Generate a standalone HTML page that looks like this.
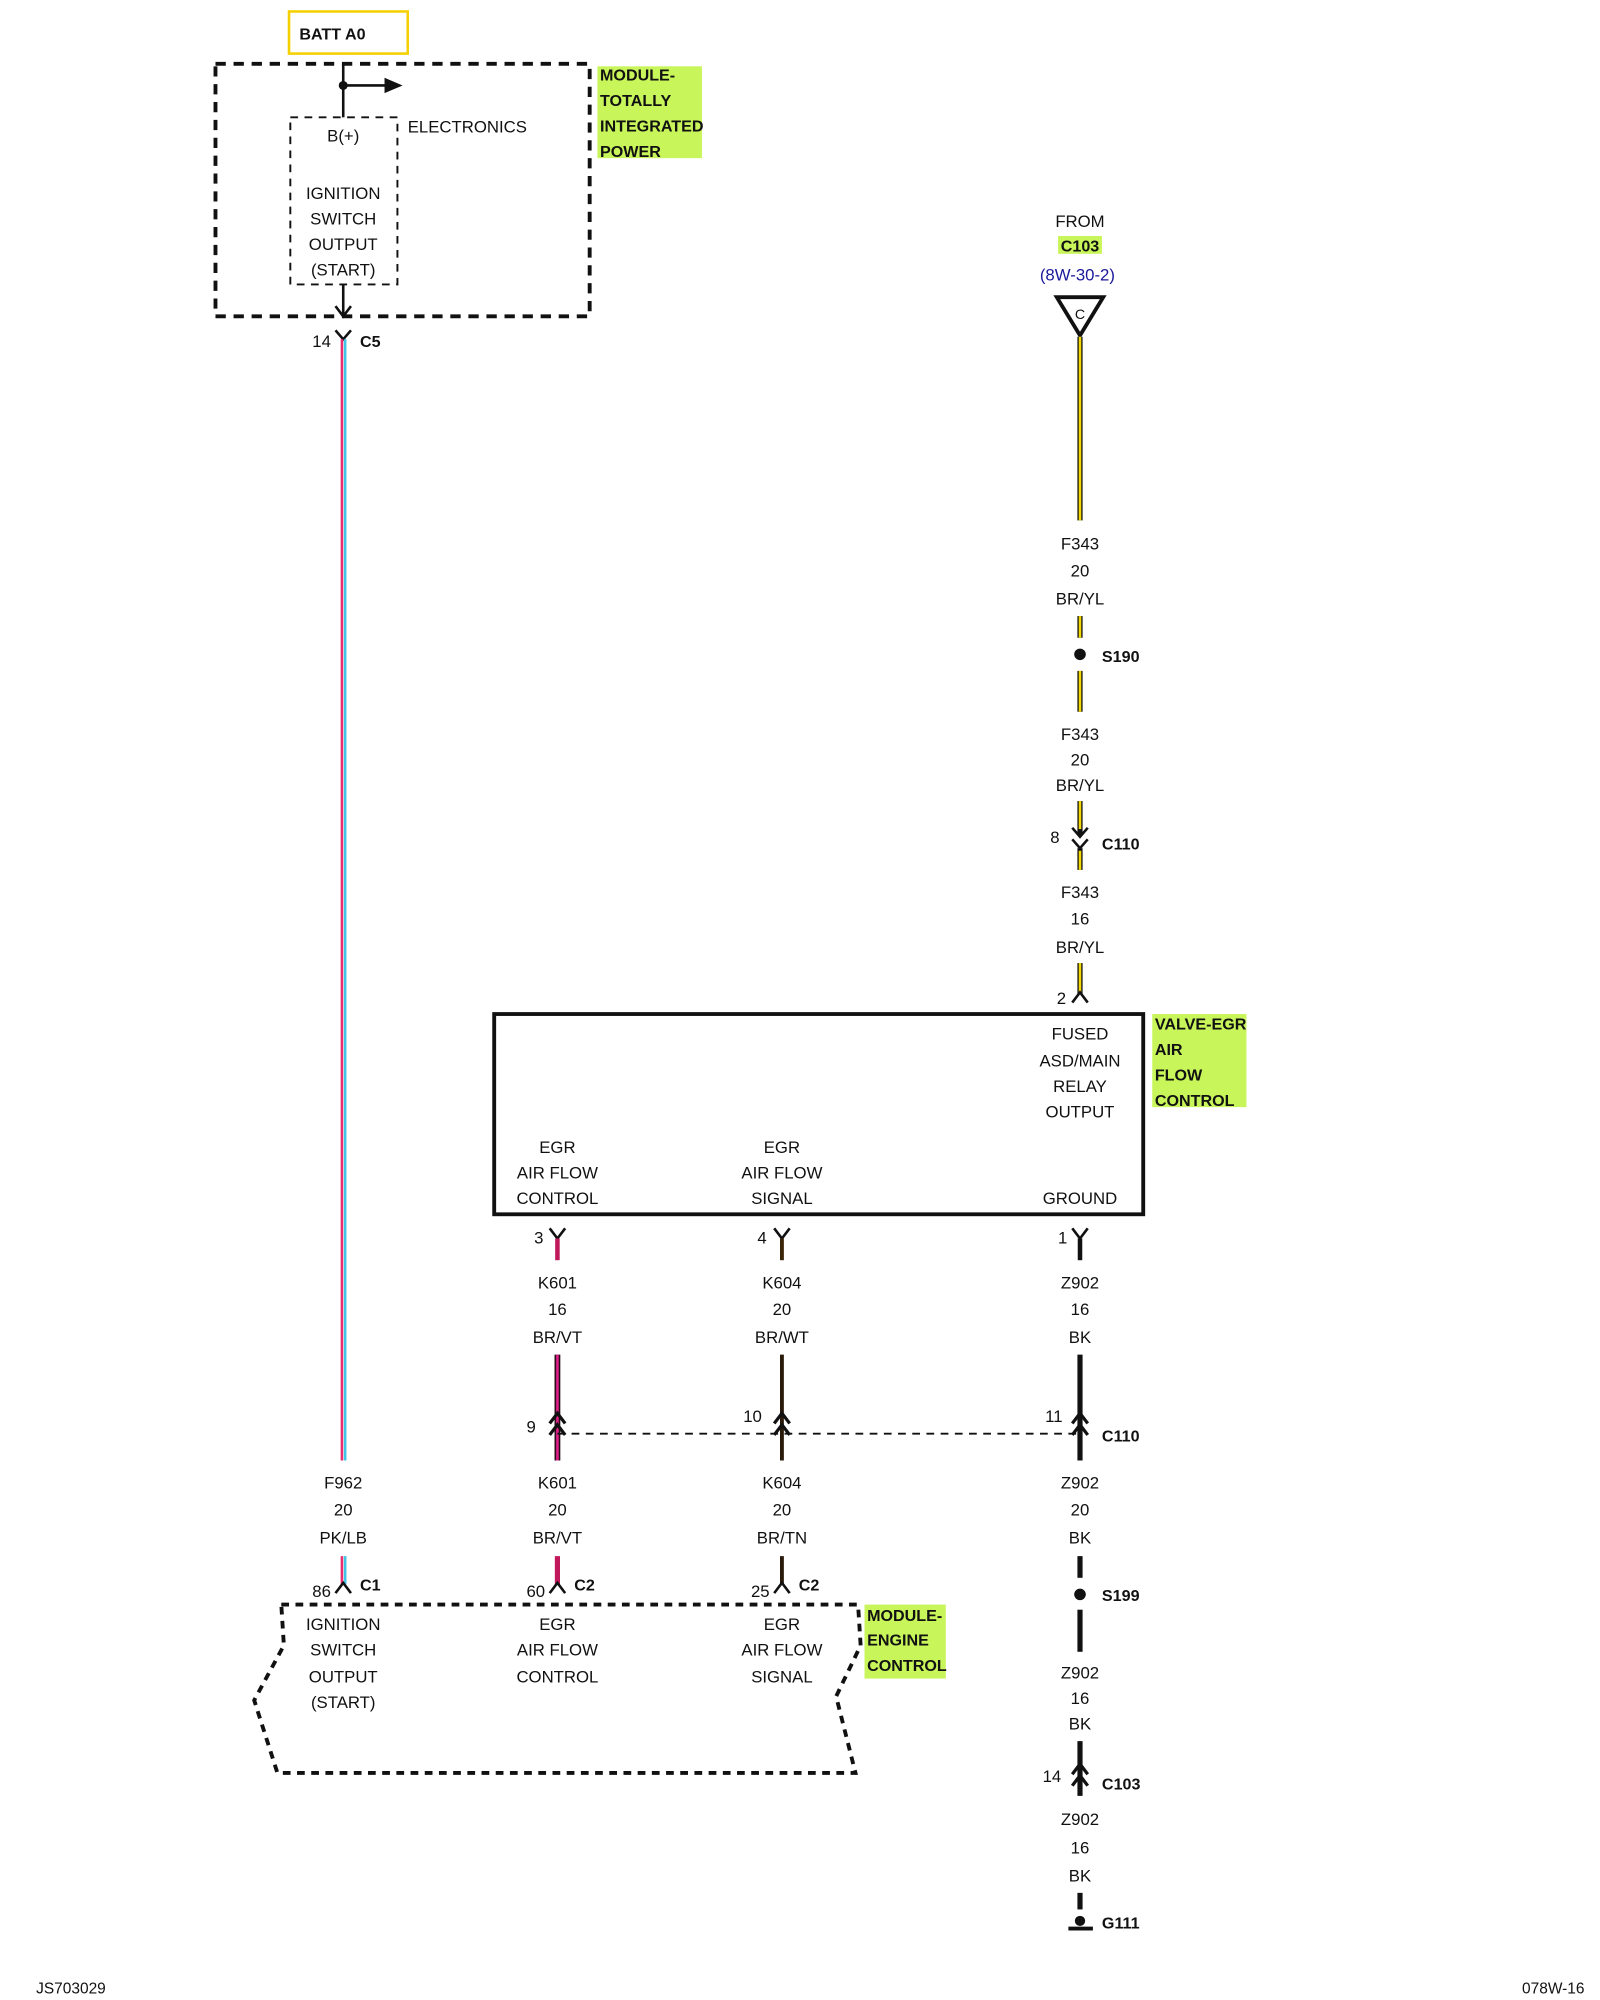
<!DOCTYPE html>
<html><head><meta charset="utf-8"><style>
html,body{margin:0;padding:0;background:#fff;}
svg{display:block;}
text{font-family:"Liberation Sans",Arial,sans-serif;font-size:13px;fill:#111;}
.c{text-anchor:middle;}
.b{font-weight:bold;font-size:12.5px;}
</style></head><body>
<svg width="1600" height="2000" viewBox="0 0 1240 1568" preserveAspectRatio="none" xmlns="http://www.w3.org/2000/svg">
<!-- BATT A0 -->
<rect x="224" y="9" width="92" height="33" fill="#fff" stroke="#f5d000" stroke-width="2"/>
<text x="232" y="31" class="b">BATT A0</text>
<!-- TIPM -->
<rect x="167" y="50" width="290" height="198" fill="none" stroke="#111" stroke-width="3" stroke-dasharray="8,6"/>
<rect x="225" y="92" width="83" height="131" fill="none" stroke="#111" stroke-width="1.5" stroke-dasharray="6,5"/>
<polyline points="266,50 266,67 266,92" fill="none" stroke="#111" stroke-width="2"/>
<line x1="266" y1="67" x2="300" y2="67" stroke="#111" stroke-width="2"/>
<polygon points="298,61 312,67 298,73" fill="#111"/>
<circle cx="266" cy="67" r="3.5" fill="#111"/>
<text x="266" y="111" class="c">B(+)</text>
<text x="266" y="156" class="c">IGNITION</text>
<text x="266" y="176" class="c">SWITCH</text>
<text x="266" y="196" class="c">OUTPUT</text>
<text x="266" y="216" class="c">(START)</text>
<text x="316" y="104">ELECTRONICS</text>
<line x1="266" y1="223" x2="266" y2="248" stroke="#111" stroke-width="2"/>
<polyline points="260,240 266,248 272,240" fill="none" stroke="#111" stroke-width="2"/>
<rect x="463" y="52" width="81" height="72" fill="#c8f55a"/>
<text x="465" y="63" class="b">MODULE-</text>
<text x="465" y="83" class="b">TOTALLY</text>
<text x="465" y="103" class="b">INTEGRATED</text>
<text x="465" y="123" class="b">POWER</text>
<!-- C5 -->
<polyline points="260,259 266,266 272,259" fill="none" stroke="#111" stroke-width="2"/>
<text x="242" y="272">14</text>
<text x="279" y="272" class="b">C5</text>
<!-- F962 wire -->
<line x1="265" y1="266" x2="265" y2="1145" stroke="#e8306e" stroke-width="2"/>
<line x1="267.5" y1="266" x2="267.5" y2="1145" stroke="#40c4e8" stroke-width="2"/>
<text x="266" y="1167" class="c">F962</text>
<text x="266" y="1188" class="c">20</text>
<text x="266" y="1210" class="c">PK/LB</text>
<line x1="265" y1="1220" x2="265" y2="1242" stroke="#e8306e" stroke-width="2"/>
<line x1="267.5" y1="1220" x2="267.5" y2="1242" stroke="#40c4e8" stroke-width="2"/>
<polyline points="260,1249 266,1241 272,1249" fill="none" stroke="#111" stroke-width="2"/>
<text x="242" y="1252">86</text>
<text x="279" y="1247" class="b">C1</text>
<!-- K601 lower -->
<line x1="432" y1="1220" x2="432" y2="1242" stroke="#c0185a" stroke-width="4"/>
<polyline points="426,1249 432,1241 438,1249" fill="none" stroke="#111" stroke-width="2"/>
<text x="408" y="1252">60</text>
<text x="445" y="1247" class="b">C2</text>
<line x1="606" y1="1220" x2="606" y2="1242" stroke="#2a1a0a" stroke-width="3"/>
<polyline points="600,1249 606,1241 612,1249" fill="none" stroke="#111" stroke-width="2"/>
<text x="582" y="1252">25</text>
<text x="619" y="1247" class="b">C2</text>
<!-- ECM -->
<polyline points="218,1258 665,1258 667,1290 648,1330 663,1390 215,1390 197,1333 220,1290 218,1258" fill="none" stroke="#111" stroke-width="3" stroke-dasharray="6,5"/>
<text x="266" y="1278" class="c">IGNITION</text>
<text x="266" y="1298" class="c">SWITCH</text>
<text x="266" y="1319" class="c">OUTPUT</text>
<text x="266" y="1339" class="c">(START)</text>
<text x="432" y="1278" class="c">EGR</text>
<text x="432" y="1298" class="c">AIR FLOW</text>
<text x="432" y="1319" class="c">CONTROL</text>
<text x="606" y="1278" class="c">EGR</text>
<text x="606" y="1298" class="c">AIR FLOW</text>
<text x="606" y="1319" class="c">SIGNAL</text>
<rect x="670" y="1258" width="63" height="58" fill="#c8f55a"/>
<text x="672" y="1271" class="b">MODULE-</text>
<text x="672" y="1290" class="b">ENGINE</text>
<text x="672" y="1310" class="b">CONTROL</text>
<!-- Right column top -->
<text x="837" y="178" class="c">FROM</text>
<rect x="820" y="185" width="34" height="14" fill="#c8f55a"/>
<text x="837" y="197" class="c b">C103</text>
<text x="835" y="220" class="c" style="fill:#1a1a9a">(8W-30-2)</text>
<polygon points="819,233 855,233 837,263" fill="#fff" stroke="#111" stroke-width="3"/>
<text x="837" y="250" class="c" style="font-size:11px">C</text>
<line x1="837" y1="264" x2="837" y2="408" stroke="#111" stroke-width="4"/>
<line x1="837" y1="264" x2="837" y2="408" stroke="#f0d800" stroke-width="2"/>
<text x="837" y="431" class="c">F343</text>
<text x="837" y="452" class="c">20</text>
<text x="837" y="474" class="c">BR/YL</text>
<line x1="837" y1="483" x2="837" y2="500" stroke="#111" stroke-width="4"/>
<line x1="837" y1="483" x2="837" y2="500" stroke="#f0d800" stroke-width="2"/>
<circle cx="837" cy="513" r="4.5" fill="#111"/>
<text x="854" y="519" class="b" style="fill:#111">S190</text>
<line x1="837" y1="526" x2="837" y2="558" stroke="#111" stroke-width="4"/>
<line x1="837" y1="526" x2="837" y2="558" stroke="#f0d800" stroke-width="2"/>
<text x="837" y="580" class="c">F343</text>
<text x="837" y="600" class="c">20</text>
<text x="837" y="620" class="c">BR/YL</text>
<line x1="837" y1="628" x2="837" y2="655" stroke="#111" stroke-width="4"/>
<line x1="837" y1="628" x2="837" y2="650" stroke="#f0d800" stroke-width="2"/>
<polyline points="831,649 837,656 843,649" fill="none" stroke="#111" stroke-width="2"/>
<polyline points="831,658 837,665 843,658" fill="none" stroke="#111" stroke-width="2"/>
<line x1="837" y1="665" x2="837" y2="682" stroke="#111" stroke-width="4"/>
<line x1="837" y1="667" x2="837" y2="682" stroke="#f0d800" stroke-width="2"/>
<text x="814" y="661">8</text>
<text x="854" y="666" class="b">C110</text>
<text x="837" y="704" class="c">F343</text>
<text x="837" y="725" class="c">16</text>
<text x="837" y="747" class="c">BR/YL</text>
<line x1="837" y1="755" x2="837" y2="780" stroke="#111" stroke-width="4"/>
<line x1="837" y1="755" x2="837" y2="780" stroke="#f0d800" stroke-width="2"/>
<polyline points="831,786 837,778 843,786" fill="none" stroke="#111" stroke-width="2"/>
<text x="819" y="787">2</text>
<!-- EGR valve box -->
<rect x="383" y="795" width="503" height="157" fill="none" stroke="#111" stroke-width="3"/>
<text x="837" y="815" class="c">FUSED</text>
<text x="837" y="836" class="c">ASD/MAIN</text>
<text x="837" y="856" class="c">RELAY</text>
<text x="837" y="876" class="c">OUTPUT</text>
<text x="432" y="904" class="c">EGR</text>
<text x="432" y="924" class="c">AIR FLOW</text>
<text x="432" y="944" class="c">CONTROL</text>
<text x="606" y="904" class="c">EGR</text>
<text x="606" y="924" class="c">AIR FLOW</text>
<text x="606" y="944" class="c">SIGNAL</text>
<text x="837" y="944" class="c">GROUND</text>
<rect x="893" y="795" width="73" height="73" fill="#c8f55a"/>
<text x="895" y="807" class="b">VALVE-EGR</text>
<text x="895" y="827" class="b">AIR</text>
<text x="895" y="847" class="b">FLOW</text>
<text x="895" y="867" class="b">CONTROL</text>
<!-- Y connectors -->
<g fill="none" stroke="#111" stroke-width="2">
<polyline points="426,963 432,971 438,963"/>
<polyline points="600,963 606,971 612,963"/>
<polyline points="831,963 837,971 843,963"/>
</g>
<line x1="432" y1="971" x2="432" y2="988" stroke="#c0185a" stroke-width="3.5"/>
<line x1="606" y1="971" x2="606" y2="988" stroke="#3a2508" stroke-width="3"/>
<line x1="837" y1="971" x2="837" y2="988" stroke="#111" stroke-width="3.5"/>
<text x="414" y="975">3</text>
<text x="587" y="975">4</text>
<text x="820" y="975">1</text>
<text x="432" y="1010" class="c">K601</text>
<text x="432" y="1031" class="c">16</text>
<text x="432" y="1053" class="c">BR/VT</text>
<text x="606" y="1010" class="c">K604</text>
<text x="606" y="1031" class="c">20</text>
<text x="606" y="1053" class="c">BR/WT</text>
<text x="837" y="1010" class="c">Z902</text>
<text x="837" y="1031" class="c">16</text>
<text x="837" y="1053" class="c">BK</text>
<!-- wires to C110 -->
<line x1="432" y1="1062" x2="432" y2="1145" stroke="#2a0a18" stroke-width="4.5"/>
<line x1="432" y1="1062" x2="432" y2="1145" stroke="#e0208a" stroke-width="2"/>
<line x1="606" y1="1062" x2="606" y2="1145" stroke="#2a1a0a" stroke-width="3"/>
<line x1="837" y1="1062" x2="837" y2="1145" stroke="#111" stroke-width="4"/>
<line x1="432" y1="1124" x2="837" y2="1124" stroke="#111" stroke-width="1.5" stroke-dasharray="6,5"/>
<g fill="none" stroke="#111" stroke-width="2.5">
<polyline points="426,1116 432,1108 438,1116"/><polyline points="426,1125 432,1117 438,1125"/>
<polyline points="600,1116 606,1108 612,1116"/><polyline points="600,1125 606,1117 612,1125"/>
<polyline points="831,1116 837,1108 843,1116"/><polyline points="831,1125 837,1117 843,1125"/>
</g>
<text x="408" y="1123">9</text>
<text x="576" y="1115">10</text>
<text x="810" y="1115">11</text>
<text x="854" y="1130" class="b">C110</text>
<text x="432" y="1167" class="c">K601</text>
<text x="432" y="1188" class="c">20</text>
<text x="432" y="1210" class="c">BR/VT</text>
<text x="606" y="1167" class="c">K604</text>
<text x="606" y="1188" class="c">20</text>
<text x="606" y="1210" class="c">BR/TN</text>
<text x="837" y="1167" class="c">Z902</text>
<text x="837" y="1188" class="c">20</text>
<text x="837" y="1210" class="c">BK</text>
<line x1="837" y1="1220" x2="837" y2="1237" stroke="#111" stroke-width="4"/>
<circle cx="837" cy="1250" r="4.5" fill="#111"/>
<text x="854" y="1255" class="b">S199</text>
<line x1="837" y1="1262" x2="837" y2="1295" stroke="#111" stroke-width="4"/>
<text x="837" y="1316" class="c">Z902</text>
<text x="837" y="1336" class="c">16</text>
<text x="837" y="1356" class="c">BK</text>
<line x1="837" y1="1365" x2="837" y2="1408" stroke="#111" stroke-width="4"/>
<g fill="none" stroke="#111" stroke-width="2.5">
<polyline points="831,1391 837,1383 843,1391"/><polyline points="831,1400 837,1392 843,1400"/>
</g>
<text x="808" y="1397">14</text>
<text x="854" y="1403" class="b">C103</text>
<text x="837" y="1431" class="c">Z902</text>
<text x="837" y="1453" class="c">16</text>
<text x="837" y="1475" class="c">BK</text>
<line x1="837" y1="1484" x2="837" y2="1497" stroke="#111" stroke-width="4"/>
<circle cx="837" cy="1506" r="4" fill="#111"/>
<line x1="828" y1="1512" x2="847" y2="1512" stroke="#111" stroke-width="3"/>
<text x="854" y="1512" class="b">G111</text>
<!-- footer -->
<text x="28" y="1563" style="font-size:12px">JS703029</text>
<text x="1228" y="1563" style="font-size:12px;text-anchor:end">078W-16</text>
</svg>
</body></html>
